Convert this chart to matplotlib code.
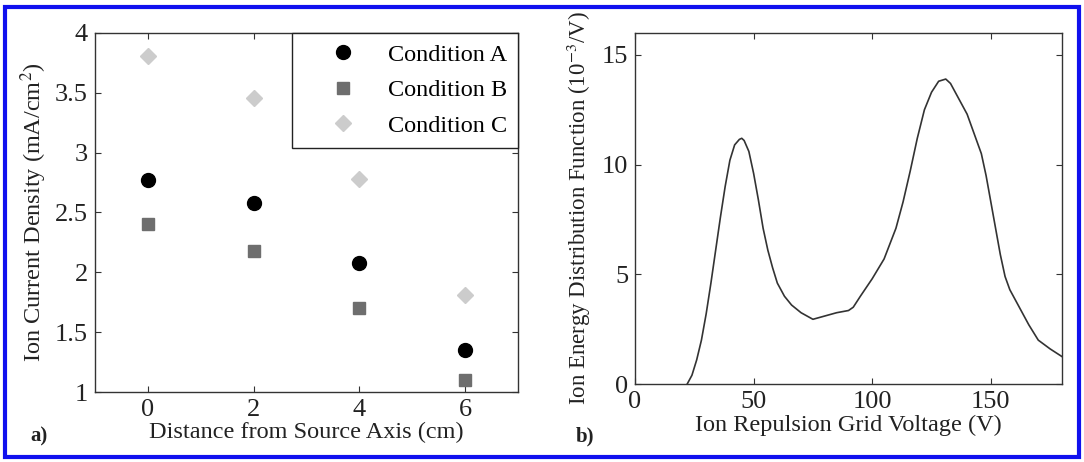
import matplotlib
matplotlib.use("Agg")
import matplotlib.pyplot as plt
from matplotlib.patches import Rectangle

plt.rcParams['font.family'] = ['Liberation Serif', 'DejaVu Serif']
plt.rcParams['mathtext.fontset'] = 'stix'

# (a) ion current density vs distance from source axis
distance = [0, 2, 4, 6]
cond_a = [2.77, 2.58, 2.08, 1.35]
cond_b = [2.40, 2.18, 1.70, 1.10]
cond_c = [3.81, 3.46, 2.78, 1.81]

# (b) ion energy distribution function
voltage = [22, 24, 26, 28, 30, 32, 34, 36, 38, 40, 42, 44, 45, 46, 48, 50,
           52, 54, 56, 58, 60, 63, 66, 70, 75, 80, 85, 90, 92, 95, 100, 105,
           110, 113, 116, 119, 122, 125, 128, 131, 133, 136, 140, 143, 146,
           148, 150, 152, 154, 156, 158, 160, 163, 166, 170, 175, 180]
iedf = [0.0, 0.4, 1.1, 2.0, 3.2, 4.6, 6.1, 7.6, 9.0, 10.2, 10.9, 11.15, 11.2,
        11.1, 10.6, 9.6, 8.4, 7.1, 6.1, 5.3, 4.6, 4.0, 3.6, 3.25, 2.95, 3.1,
        3.25, 3.35, 3.5, 4.0, 4.8, 5.7, 7.1, 8.3, 9.7, 11.2, 12.5, 13.3, 13.8,
        13.9, 13.7, 13.1, 12.3, 11.4, 10.5, 9.5, 8.3, 7.1, 5.9, 4.9, 4.3, 3.9,
        3.3, 2.7, 2.0, 1.6, 1.25]

fig = plt.figure(figsize=(10.84, 4.62), dpi=100)
ax1 = fig.add_axes([0.0876, 0.1515, 0.3903, 0.7771])
ax2 = fig.add_axes([0.5858, 0.1688, 0.3939, 0.7598])

for ax in (ax1, ax2):
    for s in ax.spines.values():
        s.set_color('#333333')
        s.set_linewidth(1.0)
    ax.tick_params(direction='in', top=True, right=True, length=4,
                   labelsize=19, colors='#333333', labelcolor='#222222', pad=5)

ax1.plot(distance, cond_a, 'o', color='black', ms=10, label='Condition A')
ax1.plot(distance, cond_b, 's', color='#6e6e6e', ms=8.5, label='Condition B')
ax1.plot(distance, cond_c, 'D', color='#cccccc', ms=8.5, label='Condition C')
ax1.set_xlim(-1, 7)
ax1.set_ylim(1, 4)
ax1.set_xticks([0, 2, 4, 6])
ax1.set_yticks([1, 1.5, 2, 2.5, 3, 3.5, 4])
ax1.set_yticklabels(['1', '1.5', '2', '2.5', '3', '3.5', '4'])
ax1.set_xlabel('Distance from Source Axis (cm)', fontsize=17.5, color='#222222', labelpad=1)
ax1.set_ylabel('Ion Current Density (mA/cm$^2$)', fontsize=17.5, color='#222222', labelpad=4)
leg = ax1.legend(loc='upper right', fontsize=17.5, fancybox=False, framealpha=1,
                 edgecolor='#222222', borderaxespad=0, handletextpad=0.2,
                 borderpad=0.45, labelspacing=0.55, handlelength=3.3)
leg.get_frame().set_linewidth(1.0)

ax2.plot(voltage, iedf, color='#333333', lw=1.2)
ax2.set_xlim(0, 180)
ax2.set_ylim(0, 16)
ax2.set_xticks([0, 50, 100, 150])
ax2.set_yticks([0, 5, 10, 15])
ax2.set_xlabel('Ion Repulsion Grid Voltage (V)', fontsize=17.5, color='#222222', labelpad=1)
ax2.set_ylabel('Ion Energy Distribution Function (10$^{-3}$/V)', fontsize=16.5,
               color='#222222', labelpad=6)

fig.text(0.028, 0.045, 'a)', fontsize=15, fontweight='bold', color='#222222')
fig.text(0.531, 0.045, 'b)', fontsize=15, fontweight='bold', color='#222222')

# blue frame around the whole figure
fig.patches.append(Rectangle((0.005, 0.01), 0.99, 0.975, transform=fig.transFigure,
                             fill=False, edgecolor='#1010ee', linewidth=3))

fig.savefig('out.png', dpi=100)
